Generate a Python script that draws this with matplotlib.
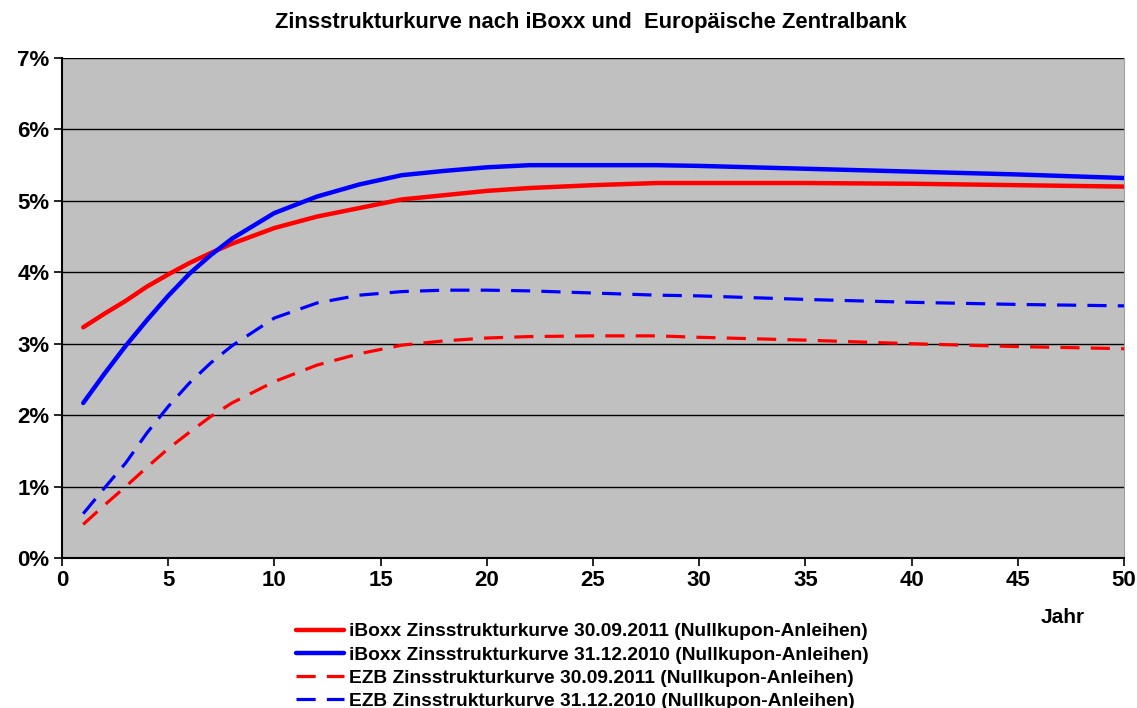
import matplotlib.pyplot as plt
from matplotlib.ticker import MultipleLocator, FuncFormatter

plt.rcParams["font.family"] = ["Liberation Sans", "DejaVu Sans"]
plt.rcParams["font.weight"] = "bold"

# Laufzeit in Jahren
jahre = [1, 2, 3, 4, 5, 6, 7, 8, 10, 12, 14, 16, 18, 20, 22, 25, 28, 30, 35, 40, 45, 50]

# Zinssätze in %
iboxx_2011 = [3.23, 3.42, 3.60, 3.80, 3.97, 4.13, 4.27, 4.40, 4.62, 4.78, 4.90, 5.02, 5.08, 5.14, 5.18, 5.22, 5.25, 5.25, 5.25, 5.24, 5.22, 5.20]
iboxx_2010 = [2.17, 2.58, 2.97, 3.33, 3.67, 3.98, 4.24, 4.47, 4.83, 5.06, 5.23, 5.36, 5.42, 5.47, 5.50, 5.50, 5.50, 5.49, 5.45, 5.41, 5.37, 5.32]
ezb_2011 = [0.47, 0.74, 1.00, 1.27, 1.53, 1.76, 1.98, 2.17, 2.47, 2.70, 2.86, 2.98, 3.04, 3.08, 3.10, 3.11, 3.11, 3.09, 3.05, 3.00, 2.96, 2.93]
ezb_2010 = [0.62, 0.98, 1.33, 1.75, 2.12, 2.45, 2.73, 2.97, 3.36, 3.57, 3.68, 3.73, 3.75, 3.75, 3.74, 3.71, 3.68, 3.67, 3.62, 3.58, 3.55, 3.53]

labels = [
    "iBoxx Zinsstrukturkurve 30.09.2011 (Nullkupon-Anleihen)",
    "iBoxx Zinsstrukturkurve 31.12.2010 (Nullkupon-Anleihen)",
    "EZB Zinsstrukturkurve 30.09.2011 (Nullkupon-Anleihen)",
    "EZB Zinsstrukturkurve 31.12.2010 (Nullkupon-Anleihen)",
]

fig = plt.figure(figsize=(11.37, 7.08), dpi=100)
ax = fig.add_axes([0.0545, 0.2119, 0.9341, 0.7061])
ax.set_facecolor("#C0C0C0")

dash = (0, (6, 3.5))
ax.plot(jahre, iboxx_2011, color="#FF0000", lw=3.2, label=labels[0], solid_capstyle="round")
ax.plot(jahre, iboxx_2010, color="#0000FF", lw=3.2, label=labels[1], solid_capstyle="round")
ax.plot(jahre, ezb_2011, color="#FF0000", lw=2.3, ls=dash, label=labels[2])
ax.plot(jahre, ezb_2010, color="#0000FF", lw=2.3, ls=dash, label=labels[3])

ax.set_xlim(0, 50)
ax.set_ylim(0, 7)
ax.xaxis.set_major_locator(MultipleLocator(5))
ax.yaxis.set_major_locator(MultipleLocator(1))
ax.yaxis.set_major_formatter(FuncFormatter(lambda v, p: f"{v:.0f}%"))
ax.grid(axis="y", color="black", lw=1)
ax.set_axisbelow(True)
ax.tick_params(axis="both", direction="out", length=6, width=1.2, labelsize=16, colors="black")
ax.tick_params(axis="x", pad=3)
ax.tick_params(axis="y", pad=3)
for lab in ax.get_xticklabels() + ax.get_yticklabels():
    lab.set_fontweight("bold")

ax.spines["left"].set_color("black")
ax.spines["bottom"].set_color("black")
ax.spines["left"].set_linewidth(1.5)
ax.spines["bottom"].set_linewidth(1.5)
ax.spines["top"].set_visible(False)
ax.spines["right"].set_color("#A0A0A0")

fig.text(0.52, 0.968, "Zinsstrukturkurve nach iBoxx und  Europäische Zentralbank",
         ha="center", va="center", fontsize=15.8, fontweight="bold")
fig.text(0.935, 0.128, "Jahr", ha="center", va="center", fontsize=15, fontweight="bold")

fig.legend(loc="upper center", bbox_to_anchor=(0.512, 0.12), frameon=False,
           fontsize=13.8, handlelength=2.5, labelspacing=0.3, handletextpad=0.25,
           borderaxespad=0, borderpad=0)

fig.savefig("out.png", dpi=100)
